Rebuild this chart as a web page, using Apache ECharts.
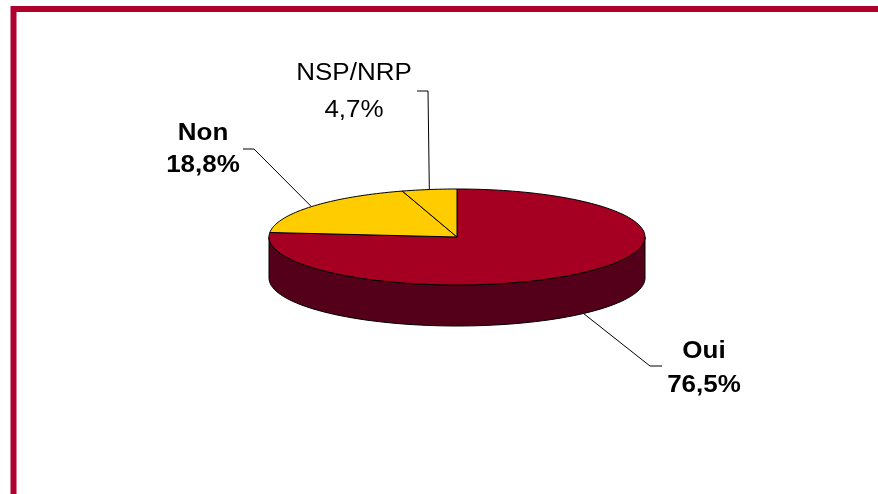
<!DOCTYPE html>
<html>
<head>
<meta charset="utf-8">
<script src="https://cdn.jsdelivr.net/npm/echarts@6/dist/echarts.min.js"></script>
<style>
  html, body { margin: 0; padding: 0; background: #fff; }
  #chart { width: 878px; height: 494px; }
</style>
</head>
<body>
<div id="chart"></div>
<script>
var categories = ['Oui', 'Non', 'NSP/NRP'];
var values = [76.5, 18.8, 4.7];
var labelTexts = ['76,5%', '18,8%', '4,7%'];
var topColors = ['#a50021', '#ffcc00', '#ffcc00'];
var sideColors = ['#55001a', '#806600', '#806600'];
var boldLabels = [true, true, false];

// layout of the flattened pie
var cx = 457, cy = 237, rx = 188, ry = 48, depth = 41;
// label boxes and leader elbows
var labelLayout = [
    { x: 704, y: 369, lh: 34, elbow: [650, 366], end: [662, 366], front: true },
    { x: 203, y: 150, lh: 32, elbow: [254, 149], end: [243, 149], front: false },
    { x: 354, y: 92, lh: 37, elbow: [428, 91], end: [417, 91], front: false }
];

var total = values.reduce(function (a, b) { return a + b; }, 0);
var startAngles = [];
var acc = 0;
for (var i = 0; i < values.length; i++) {
    startAngles.push(acc / total * Math.PI * 2);
    acc += values[i];
}

function pt(t, dy) {
    return [cx + rx * Math.sin(t), cy - ry * Math.cos(t) + dy];
}

function sliceRange(i) {
    var a1 = startAngles[i];
    return [a1, a1 + values[i] / total * Math.PI * 2];
}

function renderSide(params, api) {
    var i = params.dataIndex;
    var r = sliceRange(i);
    var s = Math.max(r[0], Math.PI / 2), e = Math.min(r[1], Math.PI * 1.5);
    if (e <= s) return { type: 'group', children: [] };
    var top = [], bot = [];
    for (var k = 0; k <= 80; k++) {
        var t = s + (e - s) * k / 80;
        top.push(pt(t, 0));
        bot.push(pt(t, depth));
    }
    return {
        type: 'polygon',
        shape: { points: top.concat(bot.reverse()) },
        style: { fill: sideColors[i], stroke: '#000', lineWidth: 1 }
    };
}

function renderTop(params, api) {
    var i = params.dataIndex;
    var r = sliceRange(i);
    var pts = [[cx, cy]];
    var n = Math.max(4, Math.ceil((r[1] - r[0]) * 40));
    for (var k = 0; k <= n; k++) {
        pts.push(pt(r[0] + (r[1] - r[0]) * k / n, 0));
    }
    return {
        type: 'polygon',
        shape: { points: pts },
        style: { fill: topColors[i], stroke: '#000', lineWidth: 1 }
    };
}

function renderLabel(params, api) {
    var i = params.dataIndex;
    var r = sliceRange(i);
    var L = labelLayout[i];
    var mid = (r[0] + r[1]) / 2;
    var anchor = pt(mid, L.front ? depth : 0);
    return {
        type: 'group',
        children: [{
            type: 'polyline',
            shape: { points: [anchor, L.elbow, L.end] },
            style: { stroke: '#000', lineWidth: 1, fill: null }
        }, {
            type: 'text',
            x: L.x,
            y: L.y,
            scaleX: 1.13,
            style: {
                text: categories[i] + '\n' + labelTexts[i],
                x: 0,
                y: 0,
                align: 'center',
                verticalAlign: 'middle',
                fontFamily: 'Liberation Sans, Arial, sans-serif',
                fontSize: 23,
                fontWeight: boldLabels[i] ? 'bold' : 'normal',
                lineHeight: L.lh,
                fill: '#000'
            }
        }]
    };
}

var chart = echarts.init(document.getElementById('chart'));
chart.setOption({
    animation: false,
    backgroundColor: '#fff',
    graphic: [{
        type: 'rect',
        shape: { x: 13.5, y: 9, width: 900, height: 520 },
        style: { fill: null, stroke: '#b0002e', lineWidth: 6 },
        z: 10
    }],
    series: [{
        type: 'custom',
        coordinateSystem: 'none',
        silent: true,
        z: 1,
        renderItem: renderSide,
        data: values
    }, {
        type: 'custom',
        coordinateSystem: 'none',
        silent: true,
        z: 2,
        renderItem: renderTop,
        data: values
    }, {
        type: 'custom',
        coordinateSystem: 'none',
        silent: true,
        z: 3,
        renderItem: renderLabel,
        data: values
    }]
});
</script>
</body>
</html>
